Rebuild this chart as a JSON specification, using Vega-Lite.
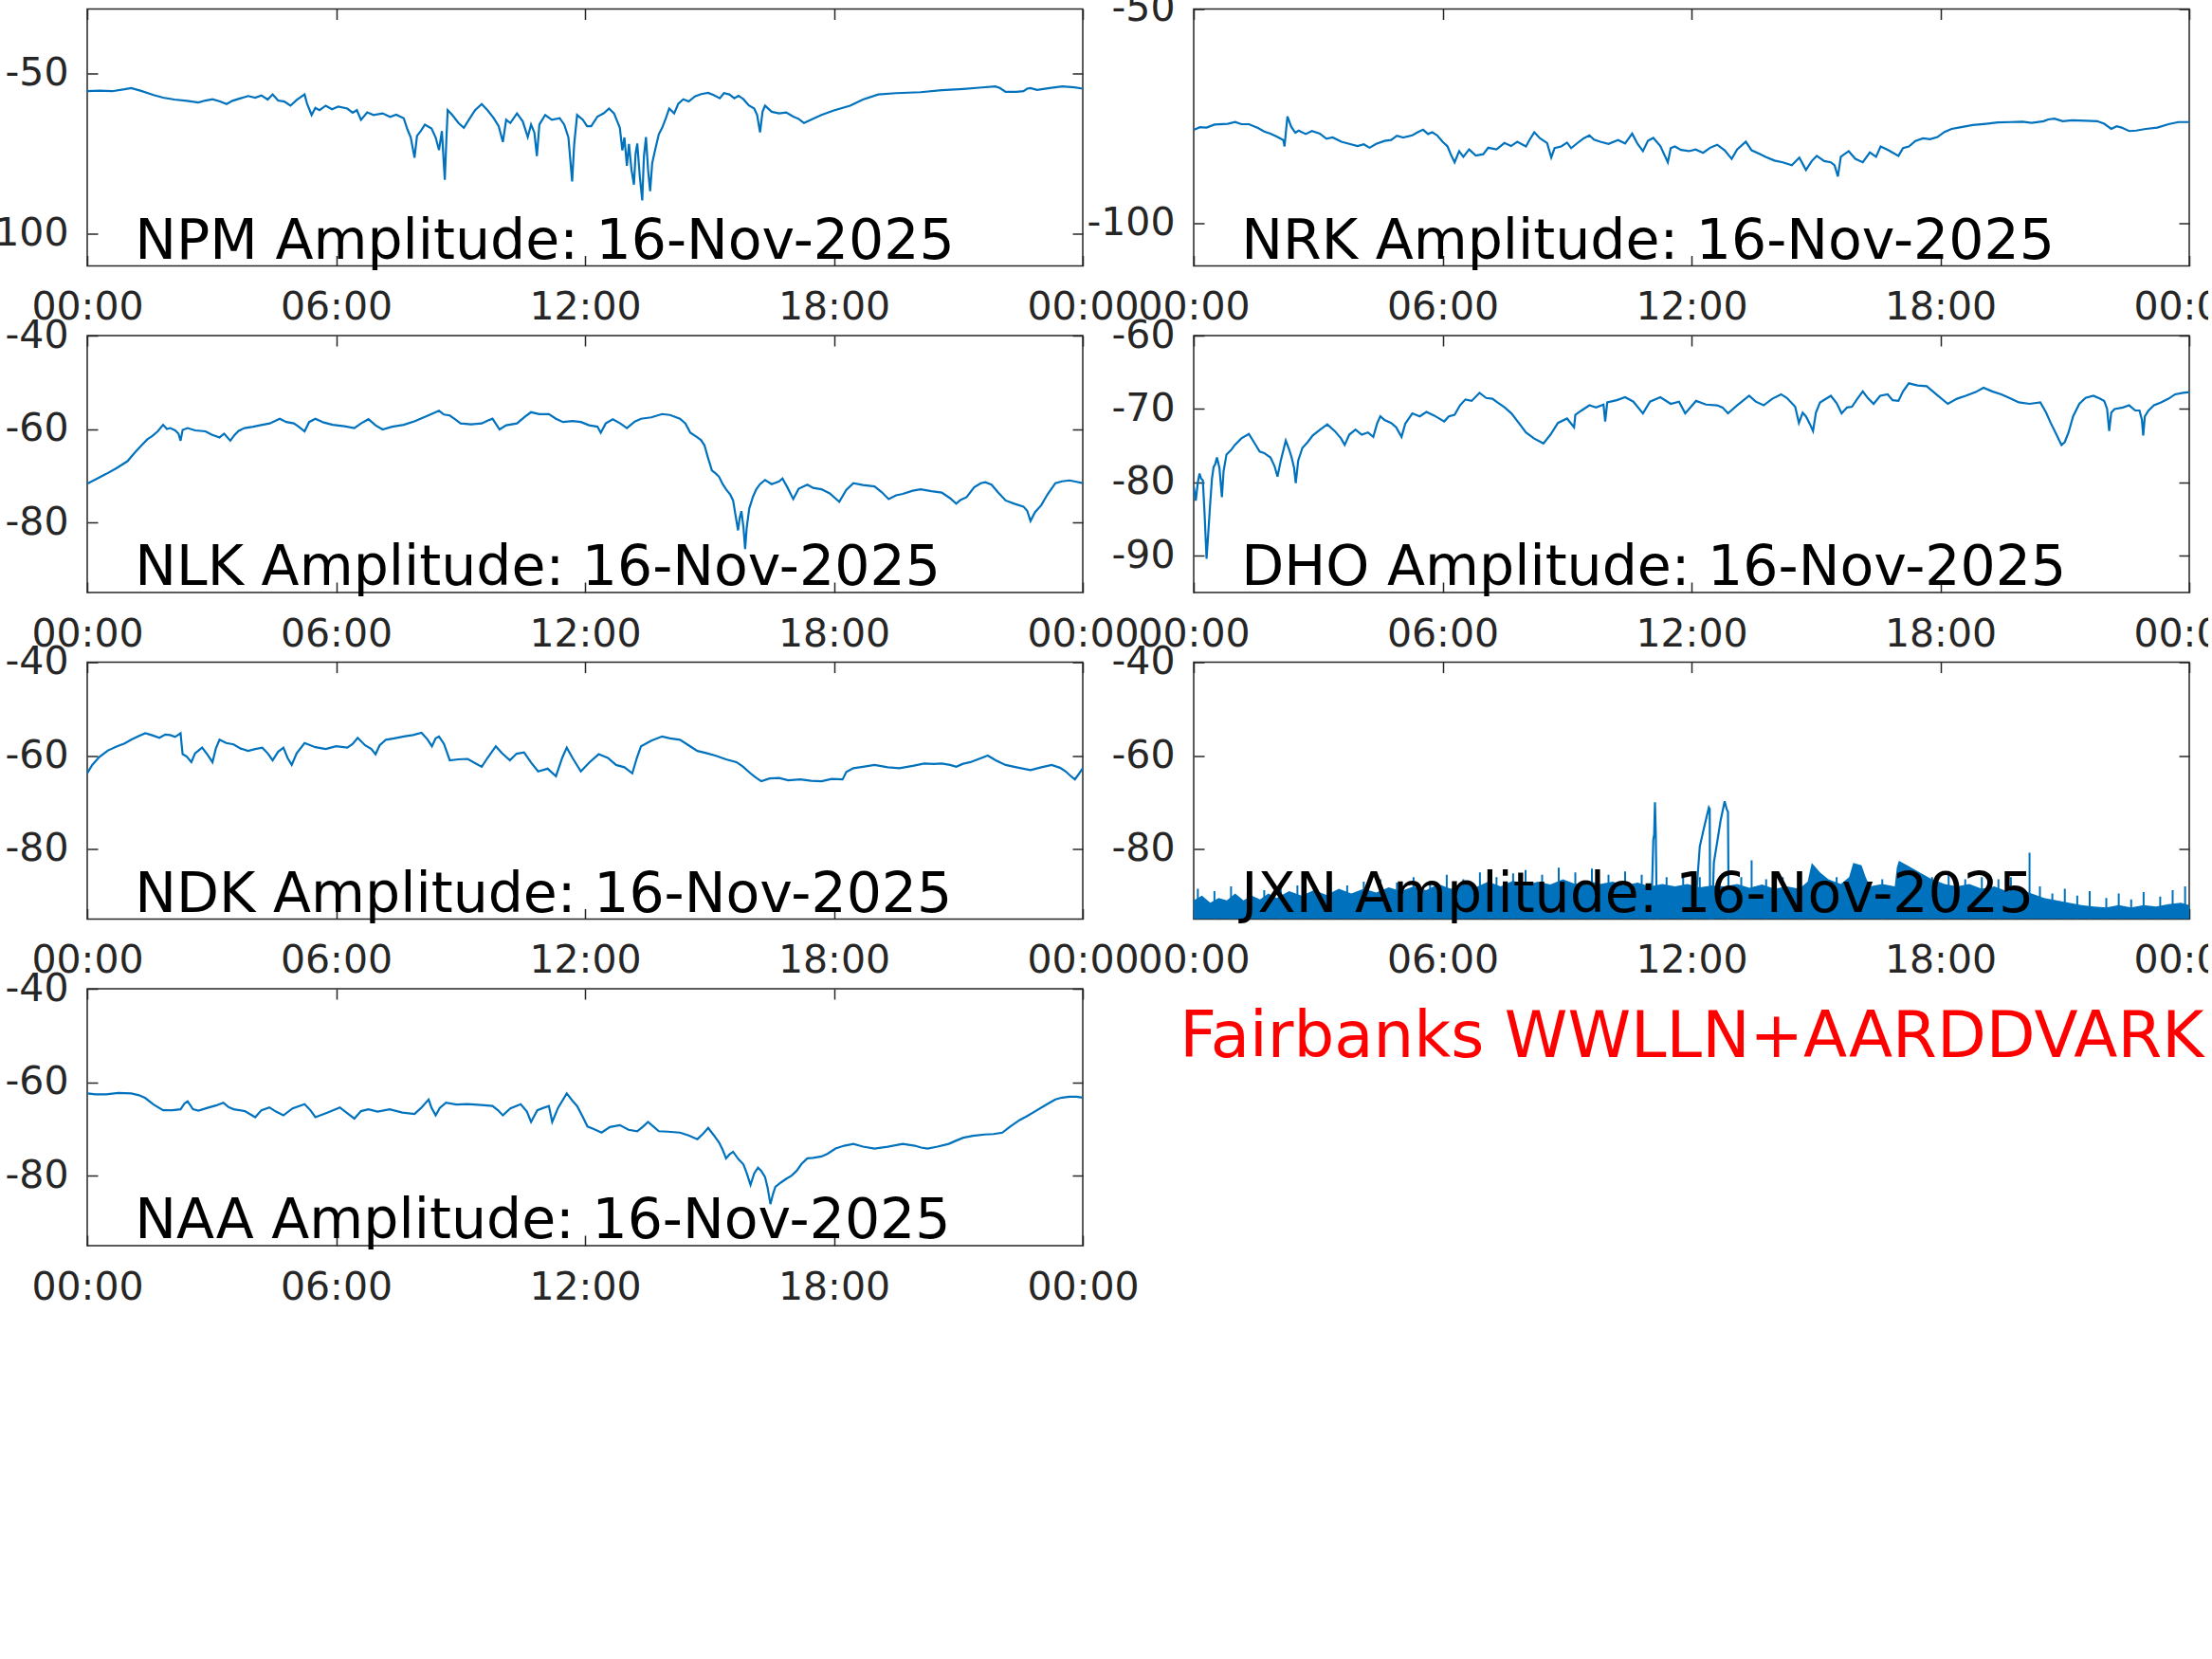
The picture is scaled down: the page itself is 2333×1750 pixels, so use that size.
{
  "$schema": "https://vega.github.io/schema/vega-lite/v6.json",
  "autosize": {"type": "pad"},
  "padding": {"left": -22, "top": -12.5, "right": -40, "bottom": 0},
  "background": "white",
  "config": {
    "view": {"stroke": "#262626", "strokeWidth": 1.5},
    "axis": {"labelFont": "DejaVu Sans", "labelFontSize": 41, "labelColor": "#262626", "tickColor": "#262626", "tickSize": -11, "tickWidth": 1.5, "domain": false, "grid": false, "labelOverlap": false, "labelFlush": false},
    "axisBottom": {"labelPadding": 35},
    "axisLeft": {"labelPadding": 31},
    "line": {"color": "#0072BD", "strokeWidth": 2.2},
    "text": {"font": "DejaVu Sans"}
  },
  "datasets": {
    "npm": [{"h":0,"v":-55.6},{"h":0.3,"v":-55.4},{"h":0.6,"v":-55.6},{"h":0.9,"v":-55.0},{"h":1.06,"v":-54.6},{"h":1.3,"v":-55.5},{"h":1.6,"v":-56.8},{"h":1.83,"v":-57.6},{"h":2.1,"v":-58.2},{"h":2.4,"v":-58.6},{"h":2.68,"v":-59.1},{"h":2.85,"v":-58.5},{"h":3.02,"v":-58.1},{"h":3.2,"v":-58.8},{"h":3.36,"v":-59.6},{"h":3.5,"v":-58.6},{"h":3.7,"v":-57.8},{"h":3.88,"v":-57.1},{"h":4.05,"v":-57.6},{"h":4.2,"v":-56.9},{"h":4.35,"v":-58.2},{"h":4.47,"v":-56.6},{"h":4.6,"v":-58.5},{"h":4.75,"v":-58.8},{"h":4.9,"v":-60.1},{"h":5.05,"v":-58.3},{"h":5.24,"v":-56.6},{"h":5.3,"v":-59.5},{"h":5.41,"v":-63.0},{"h":5.5,"v":-60.8},{"h":5.6,"v":-61.5},{"h":5.75,"v":-60.1},{"h":5.9,"v":-61.2},{"h":6.05,"v":-60.4},{"h":6.27,"v":-61.0},{"h":6.4,"v":-62.3},{"h":6.5,"v":-61.5},{"h":6.6,"v":-64.5},{"h":6.75,"v":-62.2},{"h":6.9,"v":-63.0},{"h":7.12,"v":-62.5},{"h":7.3,"v":-63.6},{"h":7.45,"v":-62.9},{"h":7.63,"v":-64.0},{"h":7.72,"v":-67.5},{"h":7.8,"v":-70.0},{"h":7.89,"v":-76.3},{"h":7.95,"v":-69.5},{"h":8.05,"v":-67.8},{"h":8.14,"v":-66.0},{"h":8.3,"v":-67.2},{"h":8.4,"v":-70.0},{"h":8.48,"v":-73.9},{"h":8.55,"v":-68.0},{"h":8.62,"v":-83.2},{"h":8.66,"v":-70.0},{"h":8.69,"v":-61.5},{"h":8.8,"v":-63.0},{"h":8.95,"v":-65.5},{"h":9.08,"v":-67.0},{"h":9.2,"v":-64.5},{"h":9.35,"v":-61.5},{"h":9.51,"v":-59.6},{"h":9.65,"v":-61.5},{"h":9.8,"v":-64.0},{"h":9.92,"v":-66.5},{"h":10.02,"v":-71.4},{"h":10.1,"v":-64.5},{"h":10.2,"v":-65.5},{"h":10.36,"v":-62.5},{"h":10.5,"v":-65.0},{"h":10.62,"v":-69.9},{"h":10.7,"v":-66.0},{"h":10.78,"v":-68.5},{"h":10.84,"v":-75.8},{"h":10.9,"v":-66.0},{"h":11.04,"v":-63.0},{"h":11.2,"v":-64.5},{"h":11.39,"v":-64.0},{"h":11.5,"v":-66.0},{"h":11.6,"v":-70.0},{"h":11.69,"v":-83.7},{"h":11.74,"v":-72.0},{"h":11.81,"v":-63.0},{"h":11.95,"v":-64.5},{"h":12.05,"v":-66.5},{"h":12.15,"v":-66.5},{"h":12.3,"v":-63.5},{"h":12.45,"v":-62.5},{"h":12.58,"v":-61.0},{"h":12.7,"v":-62.5},{"h":12.84,"v":-67.0},{"h":12.9,"v":-74.0},{"h":12.95,"v":-70.0},{"h":13.01,"v":-78.8},{"h":13.06,"v":-72.0},{"h":13.12,"v":-80.0},{"h":13.18,"v":-84.7},{"h":13.22,"v":-75.0},{"h":13.26,"v":-71.9},{"h":13.32,"v":-82.0},{"h":13.38,"v":-89.6},{"h":13.42,"v":-76.0},{"h":13.47,"v":-69.9},{"h":13.52,"v":-80.0},{"h":13.57,"v":-86.7},{"h":13.62,"v":-78.0},{"h":13.69,"v":-73.9},{"h":13.78,"v":-69.0},{"h":13.86,"v":-67.0},{"h":13.95,"v":-64.0},{"h":14.03,"v":-61.0},{"h":14.15,"v":-62.5},{"h":14.25,"v":-59.5},{"h":14.37,"v":-58.1},{"h":14.5,"v":-58.8},{"h":14.65,"v":-57.2},{"h":14.8,"v":-56.5},{"h":14.97,"v":-56.1},{"h":15.1,"v":-56.8},{"h":15.25,"v":-57.8},{"h":15.35,"v":-56.2},{"h":15.48,"v":-56.6},{"h":15.6,"v":-57.8},{"h":15.7,"v":-57.0},{"h":15.82,"v":-58.1},{"h":15.95,"v":-60.0},{"h":16.08,"v":-61.0},{"h":16.15,"v":-63.0},{"h":16.22,"v":-68.4},{"h":16.28,"v":-62.0},{"h":16.34,"v":-60.1},{"h":16.5,"v":-62.0},{"h":16.68,"v":-62.5},{"h":16.85,"v":-62.2},{"h":17.02,"v":-63.5},{"h":17.15,"v":-64.2},{"h":17.28,"v":-65.5},{"h":17.5,"v":-64.2},{"h":17.7,"v":-63.0},{"h":18.0,"v":-61.6},{"h":18.39,"v":-60.1},{"h":18.7,"v":-58.2},{"h":19.07,"v":-56.6},{"h":19.5,"v":-56.2},{"h":20.09,"v":-55.9},{"h":20.6,"v":-55.3},{"h":21.12,"v":-54.9},{"h":21.5,"v":-54.5},{"h":21.89,"v":-54.1},{"h":22.0,"v":-54.6},{"h":22.14,"v":-55.8},{"h":22.4,"v":-55.8},{"h":22.57,"v":-55.6},{"h":22.66,"v":-54.8},{"h":22.74,"v":-54.6},{"h":22.9,"v":-55.2},{"h":23.2,"v":-54.6},{"h":23.51,"v":-54.1},{"h":23.8,"v":-54.4},{"h":24,"v":-54.8}],
    "nrk": [{"h":0,"v":-78.2},{"h":0.15,"v":-77.6},{"h":0.31,"v":-77.7},{"h":0.5,"v":-77.0},{"h":0.82,"v":-76.8},{"h":1.0,"v":-76.4},{"h":1.15,"v":-76.9},{"h":1.33,"v":-76.9},{"h":1.55,"v":-77.8},{"h":1.7,"v":-78.6},{"h":1.85,"v":-79.1},{"h":2.0,"v":-79.8},{"h":2.16,"v":-80.6},{"h":2.19,"v":-82.1},{"h":2.23,"v":-78.0},{"h":2.26,"v":-75.1},{"h":2.35,"v":-77.5},{"h":2.45,"v":-78.9},{"h":2.53,"v":-78.4},{"h":2.7,"v":-79.2},{"h":2.85,"v":-78.5},{"h":3.04,"v":-79.1},{"h":3.2,"v":-80.3},{"h":3.35,"v":-80.0},{"h":3.56,"v":-81.0},{"h":3.75,"v":-81.5},{"h":3.95,"v":-82.0},{"h":4.1,"v":-81.6},{"h":4.24,"v":-82.4},{"h":4.4,"v":-81.5},{"h":4.6,"v":-80.8},{"h":4.76,"v":-80.6},{"h":4.9,"v":-79.6},{"h":5.05,"v":-80.0},{"h":5.27,"v":-79.5},{"h":5.4,"v":-78.8},{"h":5.53,"v":-78.2},{"h":5.65,"v":-79.2},{"h":5.75,"v":-78.8},{"h":5.87,"v":-79.5},{"h":6.0,"v":-81.0},{"h":6.12,"v":-82.1},{"h":6.2,"v":-84.0},{"h":6.29,"v":-85.8},{"h":6.4,"v":-83.2},{"h":6.5,"v":-84.5},{"h":6.64,"v":-82.8},{"h":6.8,"v":-84.2},{"h":6.98,"v":-83.9},{"h":7.1,"v":-82.4},{"h":7.3,"v":-82.8},{"h":7.49,"v":-81.3},{"h":7.65,"v":-82.0},{"h":7.8,"v":-81.0},{"h":8.01,"v":-82.1},{"h":8.1,"v":-80.5},{"h":8.21,"v":-78.8},{"h":8.35,"v":-80.2},{"h":8.52,"v":-81.3},{"h":8.62,"v":-84.7},{"h":8.7,"v":-82.5},{"h":8.86,"v":-82.1},{"h":9.0,"v":-81.2},{"h":9.1,"v":-82.5},{"h":9.29,"v":-81.0},{"h":9.4,"v":-80.2},{"h":9.54,"v":-79.5},{"h":9.65,"v":-80.5},{"h":9.8,"v":-81.0},{"h":10.0,"v":-81.5},{"h":10.23,"v":-80.6},{"h":10.4,"v":-81.4},{"h":10.57,"v":-79.1},{"h":10.7,"v":-81.5},{"h":10.83,"v":-83.2},{"h":10.95,"v":-80.8},{"h":11.08,"v":-80.1},{"h":11.25,"v":-82.0},{"h":11.43,"v":-85.8},{"h":11.5,"v":-82.5},{"h":11.6,"v":-82.1},{"h":11.75,"v":-82.9},{"h":11.94,"v":-83.2},{"h":12.1,"v":-82.8},{"h":12.28,"v":-83.6},{"h":12.45,"v":-82.4},{"h":12.62,"v":-81.7},{"h":12.8,"v":-83.0},{"h":12.97,"v":-85.0},{"h":13.1,"v":-82.8},{"h":13.31,"v":-81.0},{"h":13.45,"v":-83.0},{"h":13.65,"v":-83.9},{"h":13.8,"v":-84.6},{"h":14.0,"v":-85.4},{"h":14.2,"v":-85.8},{"h":14.42,"v":-86.5},{"h":14.6,"v":-84.7},{"h":14.7,"v":-86.5},{"h":14.76,"v":-87.6},{"h":14.9,"v":-85.5},{"h":15.02,"v":-84.3},{"h":15.2,"v":-85.5},{"h":15.36,"v":-85.8},{"h":15.45,"v":-86.5},{"h":15.53,"v":-89.1},{"h":15.6,"v":-84.5},{"h":15.79,"v":-83.2},{"h":15.95,"v":-85.0},{"h":16.13,"v":-85.8},{"h":16.3,"v":-83.5},{"h":16.45,"v":-84.5},{"h":16.56,"v":-82.1},{"h":16.75,"v":-83.0},{"h":16.99,"v":-84.3},{"h":17.1,"v":-82.5},{"h":17.24,"v":-82.1},{"h":17.4,"v":-80.8},{"h":17.58,"v":-80.2},{"h":17.75,"v":-80.4},{"h":17.93,"v":-79.9},{"h":18.1,"v":-78.7},{"h":18.27,"v":-78.0},{"h":18.5,"v":-77.6},{"h":18.78,"v":-77.1},{"h":19.1,"v":-76.8},{"h":19.38,"v":-76.5},{"h":19.7,"v":-76.4},{"h":19.98,"v":-76.3},{"h":20.2,"v":-76.6},{"h":20.49,"v":-76.2},{"h":20.6,"v":-75.8},{"h":20.75,"v":-75.6},{"h":20.95,"v":-76.2},{"h":21.18,"v":-76.0},{"h":21.5,"v":-76.1},{"h":21.78,"v":-76.2},{"h":21.95,"v":-76.8},{"h":22.12,"v":-78.0},{"h":22.25,"v":-77.4},{"h":22.37,"v":-77.7},{"h":22.55,"v":-78.5},{"h":22.72,"v":-78.4},{"h":22.95,"v":-78.0},{"h":23.23,"v":-77.7},{"h":23.5,"v":-76.9},{"h":23.74,"v":-76.4},{"h":24,"v":-76.4}],
    "nlk": [{"h":0,"v":-71.7},{"h":0.2,"v":-70.8},{"h":0.46,"v":-69.6},{"h":0.7,"v":-68.4},{"h":0.97,"v":-66.9},{"h":1.15,"v":-65.0},{"h":1.31,"v":-63.5},{"h":1.45,"v":-62.2},{"h":1.57,"v":-61.5},{"h":1.7,"v":-60.5},{"h":1.83,"v":-59.1},{"h":1.92,"v":-60.0},{"h":2.0,"v":-59.8},{"h":2.12,"v":-60.3},{"h":2.2,"v":-61.0},{"h":2.25,"v":-62.5},{"h":2.3,"v":-60.2},{"h":2.42,"v":-59.8},{"h":2.6,"v":-60.3},{"h":2.85,"v":-60.5},{"h":3.0,"v":-61.2},{"h":3.19,"v":-61.8},{"h":3.3,"v":-61.0},{"h":3.45,"v":-62.5},{"h":3.55,"v":-61.3},{"h":3.65,"v":-60.4},{"h":3.79,"v":-59.8},{"h":4.0,"v":-59.5},{"h":4.22,"v":-59.1},{"h":4.4,"v":-58.8},{"h":4.64,"v":-57.8},{"h":4.8,"v":-58.5},{"h":4.98,"v":-58.8},{"h":5.1,"v":-59.5},{"h":5.24,"v":-60.5},{"h":5.35,"v":-58.5},{"h":5.5,"v":-57.8},{"h":5.7,"v":-58.6},{"h":5.92,"v":-59.1},{"h":6.2,"v":-59.4},{"h":6.44,"v":-59.8},{"h":6.6,"v":-58.8},{"h":6.78,"v":-57.9},{"h":6.95,"v":-59.2},{"h":7.12,"v":-60.1},{"h":7.35,"v":-59.5},{"h":7.63,"v":-59.1},{"h":7.9,"v":-58.3},{"h":8.14,"v":-57.4},{"h":8.3,"v":-56.8},{"h":8.48,"v":-56.1},{"h":8.6,"v":-56.9},{"h":8.74,"v":-57.1},{"h":8.88,"v":-58.0},{"h":9.0,"v":-58.8},{"h":9.25,"v":-59.0},{"h":9.51,"v":-58.8},{"h":9.65,"v":-58.2},{"h":9.77,"v":-57.8},{"h":9.86,"v":-59.0},{"h":9.94,"v":-60.1},{"h":10.1,"v":-59.2},{"h":10.36,"v":-58.8},{"h":10.55,"v":-57.4},{"h":10.7,"v":-56.4},{"h":10.9,"v":-56.8},{"h":11.13,"v":-56.8},{"h":11.3,"v":-57.8},{"h":11.47,"v":-58.5},{"h":11.7,"v":-58.3},{"h":11.9,"v":-58.5},{"h":12.1,"v":-59.2},{"h":12.3,"v":-59.5},{"h":12.38,"v":-60.8},{"h":12.5,"v":-58.8},{"h":12.67,"v":-57.9},{"h":12.85,"v":-58.8},{"h":13.01,"v":-59.8},{"h":13.2,"v":-58.4},{"h":13.35,"v":-57.8},{"h":13.6,"v":-57.5},{"h":13.86,"v":-56.8},{"h":14.05,"v":-57.0},{"h":14.29,"v":-57.8},{"h":14.42,"v":-58.8},{"h":14.54,"v":-60.8},{"h":14.71,"v":-61.8},{"h":14.8,"v":-62.4},{"h":14.88,"v":-63.5},{"h":14.96,"v":-66.0},{"h":15.06,"v":-68.9},{"h":15.15,"v":-69.5},{"h":15.23,"v":-70.2},{"h":15.32,"v":-71.8},{"h":15.4,"v":-72.9},{"h":15.5,"v":-74.0},{"h":15.57,"v":-75.3},{"h":15.63,"v":-78.5},{"h":15.69,"v":-81.7},{"h":15.73,"v":-79.0},{"h":15.77,"v":-77.6},{"h":15.82,"v":-81.0},{"h":15.86,"v":-85.7},{"h":15.9,"v":-81.0},{"h":15.96,"v":-77.0},{"h":16.05,"v":-74.5},{"h":16.13,"v":-72.9},{"h":16.22,"v":-71.8},{"h":16.34,"v":-70.9},{"h":16.5,"v":-71.8},{"h":16.68,"v":-71.2},{"h":16.76,"v":-70.6},{"h":16.88,"v":-72.5},{"h":17.02,"v":-75.0},{"h":17.15,"v":-72.8},{"h":17.36,"v":-71.9},{"h":17.5,"v":-72.6},{"h":17.7,"v":-72.9},{"h":17.9,"v":-73.8},{"h":18.13,"v":-75.6},{"h":18.3,"v":-73.0},{"h":18.47,"v":-71.6},{"h":18.7,"v":-72.0},{"h":18.98,"v":-72.3},{"h":19.15,"v":-73.5},{"h":19.32,"v":-75.0},{"h":19.5,"v":-74.2},{"h":19.66,"v":-73.9},{"h":19.9,"v":-73.2},{"h":20.09,"v":-72.9},{"h":20.35,"v":-73.3},{"h":20.6,"v":-73.6},{"h":20.8,"v":-74.8},{"h":20.95,"v":-76.0},{"h":21.05,"v":-75.2},{"h":21.2,"v":-74.6},{"h":21.38,"v":-72.5},{"h":21.54,"v":-71.6},{"h":21.65,"v":-71.4},{"h":21.8,"v":-71.9},{"h":21.95,"v":-73.5},{"h":22.14,"v":-75.3},{"h":22.35,"v":-76.0},{"h":22.57,"v":-76.6},{"h":22.66,"v":-77.5},{"h":22.74,"v":-79.7},{"h":22.85,"v":-77.8},{"h":23.0,"v":-76.3},{"h":23.15,"v":-74.0},{"h":23.34,"v":-71.6},{"h":23.5,"v":-71.2},{"h":23.68,"v":-71.0},{"h":23.85,"v":-71.3},{"h":24,"v":-71.6}],
    "dho": [{"h":0,"v":-80.5},{"h":0.05,"v":-82.5},{"h":0.1,"v":-80.0},{"h":0.14,"v":-78.8},{"h":0.18,"v":-79.5},{"h":0.22,"v":-79.7},{"h":0.26,"v":-84.0},{"h":0.31,"v":-90.4},{"h":0.35,"v":-87.0},{"h":0.39,"v":-83.5},{"h":0.44,"v":-79.5},{"h":0.48,"v":-77.9},{"h":0.52,"v":-77.5},{"h":0.56,"v":-76.6},{"h":0.62,"v":-78.0},{"h":0.68,"v":-82.0},{"h":0.72,"v":-78.5},{"h":0.79,"v":-76.2},{"h":0.9,"v":-75.6},{"h":0.99,"v":-74.9},{"h":1.15,"v":-74.0},{"h":1.33,"v":-73.4},{"h":1.45,"v":-74.5},{"h":1.59,"v":-75.8},{"h":1.7,"v":-76.0},{"h":1.85,"v":-76.6},{"h":1.95,"v":-77.8},{"h":2.02,"v":-79.2},{"h":2.1,"v":-77.0},{"h":2.22,"v":-74.3},{"h":2.3,"v":-75.5},{"h":2.36,"v":-76.6},{"h":2.42,"v":-78.0},{"h":2.46,"v":-80.1},{"h":2.52,"v":-77.0},{"h":2.62,"v":-75.3},{"h":2.75,"v":-74.5},{"h":2.87,"v":-73.6},{"h":3.05,"v":-72.8},{"h":3.22,"v":-72.1},{"h":3.4,"v":-73.0},{"h":3.55,"v":-74.0},{"h":3.64,"v":-74.9},{"h":3.75,"v":-73.5},{"h":3.9,"v":-72.8},{"h":4.05,"v":-73.5},{"h":4.2,"v":-73.2},{"h":4.33,"v":-73.8},{"h":4.42,"v":-72.0},{"h":4.5,"v":-71.0},{"h":4.6,"v":-71.5},{"h":4.76,"v":-71.9},{"h":4.88,"v":-72.5},{"h":5.01,"v":-73.8},{"h":5.1,"v":-72.0},{"h":5.27,"v":-70.6},{"h":5.45,"v":-71.0},{"h":5.61,"v":-70.4},{"h":5.8,"v":-70.9},{"h":6.04,"v":-71.7},{"h":6.15,"v":-71.0},{"h":6.29,"v":-70.8},{"h":6.42,"v":-69.5},{"h":6.55,"v":-68.7},{"h":6.7,"v":-68.9},{"h":6.89,"v":-67.8},{"h":7.05,"v":-68.5},{"h":7.2,"v":-68.6},{"h":7.32,"v":-69.1},{"h":7.5,"v":-69.8},{"h":7.66,"v":-70.6},{"h":7.85,"v":-72.0},{"h":8.01,"v":-73.2},{"h":8.2,"v":-74.0},{"h":8.43,"v":-74.7},{"h":8.6,"v":-73.5},{"h":8.78,"v":-71.9},{"h":9.0,"v":-71.3},{"h":9.17,"v":-72.5},{"h":9.2,"v":-70.8},{"h":9.35,"v":-70.2},{"h":9.54,"v":-69.5},{"h":9.7,"v":-69.8},{"h":9.88,"v":-69.4},{"h":9.92,"v":-71.7},{"h":9.97,"v":-69.1},{"h":10.2,"v":-68.8},{"h":10.4,"v":-68.4},{"h":10.6,"v":-69.0},{"h":10.83,"v":-70.6},{"h":11.0,"v":-69.0},{"h":11.25,"v":-68.4},{"h":11.5,"v":-69.3},{"h":11.7,"v":-69.0},{"h":11.85,"v":-70.6},{"h":12.11,"v":-68.9},{"h":12.35,"v":-69.4},{"h":12.62,"v":-69.5},{"h":12.75,"v":-69.8},{"h":12.88,"v":-70.6},{"h":13.1,"v":-69.5},{"h":13.39,"v":-68.2},{"h":13.55,"v":-69.0},{"h":13.74,"v":-69.5},{"h":13.95,"v":-68.6},{"h":14.16,"v":-68.0},{"h":14.3,"v":-68.5},{"h":14.5,"v":-69.7},{"h":14.59,"v":-71.9},{"h":14.68,"v":-70.5},{"h":14.76,"v":-71.0},{"h":14.85,"v":-72.0},{"h":14.93,"v":-73.0},{"h":15.0,"v":-70.5},{"h":15.1,"v":-69.1},{"h":15.36,"v":-68.2},{"h":15.5,"v":-69.2},{"h":15.62,"v":-70.6},{"h":15.75,"v":-69.8},{"h":15.87,"v":-69.7},{"h":16.0,"v":-68.6},{"h":16.13,"v":-67.6},{"h":16.25,"v":-68.5},{"h":16.39,"v":-69.3},{"h":16.55,"v":-68.2},{"h":16.73,"v":-68.0},{"h":16.85,"v":-68.8},{"h":16.99,"v":-68.9},{"h":17.1,"v":-67.6},{"h":17.24,"v":-66.5},{"h":17.45,"v":-66.8},{"h":17.67,"v":-66.9},{"h":17.9,"v":-68.0},{"h":18.18,"v":-69.3},{"h":18.4,"v":-68.6},{"h":18.61,"v":-68.2},{"h":18.85,"v":-67.7},{"h":19.04,"v":-67.1},{"h":19.25,"v":-67.6},{"h":19.47,"v":-68.0},{"h":19.7,"v":-68.6},{"h":19.89,"v":-69.1},{"h":20.15,"v":-69.3},{"h":20.41,"v":-69.1},{"h":20.55,"v":-70.5},{"h":20.66,"v":-71.9},{"h":20.8,"v":-73.5},{"h":20.92,"v":-74.9},{"h":21.0,"v":-74.5},{"h":21.09,"v":-73.2},{"h":21.2,"v":-71.0},{"h":21.35,"v":-69.3},{"h":21.5,"v":-68.5},{"h":21.69,"v":-68.2},{"h":21.85,"v":-68.6},{"h":21.95,"v":-68.9},{"h":22.02,"v":-70.0},{"h":22.07,"v":-73.0},{"h":22.12,"v":-70.5},{"h":22.2,"v":-70.0},{"h":22.4,"v":-69.8},{"h":22.55,"v":-69.5},{"h":22.7,"v":-70.2},{"h":22.8,"v":-70.2},{"h":22.86,"v":-71.5},{"h":22.89,"v":-73.6},{"h":22.93,"v":-71.0},{"h":23.02,"v":-70.2},{"h":23.15,"v":-69.5},{"h":23.32,"v":-69.1},{"h":23.5,"v":-68.6},{"h":23.66,"v":-68.0},{"h":23.85,"v":-67.8},{"h":24,"v":-67.7}],
    "ndk": [{"h":0,"v":-63.8},{"h":0.12,"v":-62.0},{"h":0.29,"v":-60.3},{"h":0.5,"v":-58.9},{"h":0.72,"v":-58.0},{"h":0.9,"v":-57.4},{"h":1.06,"v":-56.6},{"h":1.25,"v":-55.8},{"h":1.4,"v":-55.2},{"h":1.55,"v":-55.6},{"h":1.74,"v":-56.2},{"h":1.88,"v":-55.5},{"h":2.0,"v":-55.6},{"h":2.12,"v":-56.0},{"h":2.25,"v":-55.2},{"h":2.28,"v":-58.0},{"h":2.3,"v":-59.7},{"h":2.4,"v":-60.2},{"h":2.51,"v":-61.4},{"h":2.6,"v":-59.5},{"h":2.77,"v":-58.3},{"h":2.9,"v":-59.8},{"h":3.02,"v":-61.4},{"h":3.1,"v":-58.5},{"h":3.19,"v":-56.6},{"h":3.35,"v":-57.3},{"h":3.53,"v":-57.6},{"h":3.7,"v":-58.5},{"h":3.88,"v":-59.0},{"h":4.05,"v":-58.6},{"h":4.22,"v":-58.3},{"h":4.35,"v":-59.5},{"h":4.47,"v":-61.0},{"h":4.6,"v":-59.2},{"h":4.73,"v":-58.3},{"h":4.83,"v":-60.5},{"h":4.93,"v":-62.0},{"h":5.05,"v":-59.5},{"h":5.24,"v":-57.3},{"h":5.5,"v":-58.2},{"h":5.75,"v":-58.6},{"h":6.0,"v":-58.0},{"h":6.27,"v":-58.3},{"h":6.4,"v":-57.5},{"h":6.52,"v":-56.2},{"h":6.7,"v":-57.8},{"h":6.85,"v":-58.6},{"h":6.95,"v":-59.7},{"h":7.05,"v":-57.8},{"h":7.2,"v":-56.6},{"h":7.4,"v":-56.3},{"h":7.63,"v":-55.9},{"h":7.85,"v":-55.6},{"h":8.06,"v":-55.1},{"h":8.2,"v":-56.5},{"h":8.31,"v":-58.0},{"h":8.4,"v":-56.3},{"h":8.48,"v":-55.9},{"h":8.6,"v":-57.5},{"h":8.74,"v":-61.0},{"h":8.95,"v":-60.8},{"h":9.17,"v":-60.7},{"h":9.35,"v":-61.6},{"h":9.51,"v":-62.4},{"h":9.65,"v":-60.5},{"h":9.85,"v":-58.0},{"h":10.0,"v":-59.5},{"h":10.19,"v":-61.0},{"h":10.35,"v":-59.6},{"h":10.53,"v":-59.3},{"h":10.7,"v":-61.5},{"h":10.87,"v":-63.4},{"h":11.1,"v":-62.8},{"h":11.3,"v":-64.4},{"h":11.45,"v":-60.5},{"h":11.56,"v":-58.3},{"h":11.7,"v":-60.5},{"h":11.9,"v":-63.4},{"h":12.1,"v":-61.5},{"h":12.33,"v":-59.7},{"h":12.55,"v":-60.5},{"h":12.75,"v":-62.0},{"h":12.95,"v":-62.5},{"h":13.14,"v":-63.8},{"h":13.25,"v":-60.5},{"h":13.35,"v":-58.0},{"h":13.6,"v":-56.8},{"h":13.86,"v":-55.9},{"h":14.05,"v":-56.3},{"h":14.29,"v":-56.6},{"h":14.5,"v":-57.8},{"h":14.71,"v":-59.0},{"h":14.9,"v":-59.4},{"h":15.14,"v":-60.0},{"h":15.4,"v":-60.8},{"h":15.65,"v":-61.4},{"h":15.8,"v":-62.3},{"h":15.99,"v":-63.8},{"h":16.1,"v":-64.6},{"h":16.25,"v":-65.5},{"h":16.45,"v":-64.9},{"h":16.68,"v":-64.8},{"h":16.9,"v":-65.3},{"h":17.19,"v":-65.1},{"h":17.45,"v":-65.4},{"h":17.7,"v":-65.5},{"h":17.95,"v":-65.0},{"h":18.21,"v":-65.1},{"h":18.3,"v":-63.5},{"h":18.47,"v":-62.7},{"h":18.7,"v":-62.4},{"h":18.98,"v":-62.0},{"h":19.3,"v":-62.5},{"h":19.58,"v":-62.7},{"h":19.9,"v":-62.2},{"h":20.18,"v":-61.7},{"h":20.4,"v":-61.8},{"h":20.6,"v":-61.7},{"h":20.8,"v":-62.0},{"h":20.95,"v":-62.4},{"h":21.1,"v":-61.8},{"h":21.29,"v":-61.4},{"h":21.5,"v":-60.7},{"h":21.71,"v":-60.0},{"h":21.9,"v":-61.0},{"h":22.14,"v":-62.0},{"h":22.4,"v":-62.5},{"h":22.74,"v":-63.1},{"h":23.0,"v":-62.5},{"h":23.25,"v":-62.0},{"h":23.45,"v":-62.6},{"h":23.59,"v":-63.4},{"h":23.7,"v":-64.3},{"h":23.81,"v":-65.1},{"h":23.9,"v":-64.0},{"h":24,"v":-62.7}],
    "naa": [{"h":0,"v":-62.4},{"h":0.2,"v":-62.6},{"h":0.46,"v":-62.6},{"h":0.75,"v":-62.3},{"h":1.06,"v":-62.4},{"h":1.25,"v":-62.8},{"h":1.4,"v":-63.4},{"h":1.6,"v":-64.8},{"h":1.83,"v":-66.0},{"h":2.05,"v":-66.0},{"h":2.25,"v":-65.8},{"h":2.35,"v":-64.5},{"h":2.42,"v":-64.1},{"h":2.55,"v":-65.8},{"h":2.68,"v":-66.1},{"h":2.9,"v":-65.5},{"h":3.1,"v":-65.0},{"h":3.28,"v":-64.4},{"h":3.4,"v":-65.3},{"h":3.53,"v":-65.8},{"h":3.8,"v":-66.2},{"h":4.05,"v":-67.5},{"h":4.2,"v":-66.0},{"h":4.39,"v":-65.4},{"h":4.55,"v":-66.3},{"h":4.73,"v":-67.1},{"h":4.95,"v":-65.6},{"h":5.24,"v":-64.7},{"h":5.38,"v":-66.0},{"h":5.5,"v":-67.5},{"h":5.8,"v":-66.5},{"h":6.09,"v":-65.4},{"h":6.25,"v":-66.5},{"h":6.44,"v":-67.8},{"h":6.6,"v":-66.2},{"h":6.78,"v":-65.8},{"h":7.0,"v":-66.3},{"h":7.29,"v":-65.8},{"h":7.6,"v":-66.5},{"h":7.89,"v":-66.8},{"h":8.05,"v":-65.5},{"h":8.23,"v":-63.7},{"h":8.3,"v":-65.5},{"h":8.4,"v":-67.1},{"h":8.5,"v":-65.5},{"h":8.65,"v":-64.4},{"h":8.9,"v":-64.8},{"h":9.17,"v":-64.7},{"h":9.5,"v":-64.9},{"h":9.77,"v":-65.1},{"h":9.9,"v":-66.0},{"h":10.02,"v":-67.1},{"h":10.2,"v":-65.6},{"h":10.45,"v":-64.7},{"h":10.6,"v":-66.3},{"h":10.7,"v":-68.5},{"h":10.85,"v":-66.0},{"h":11.0,"v":-65.5},{"h":11.13,"v":-65.1},{"h":11.21,"v":-68.5},{"h":11.35,"v":-65.5},{"h":11.56,"v":-62.4},{"h":11.7,"v":-64.0},{"h":11.81,"v":-65.1},{"h":11.95,"v":-67.5},{"h":12.06,"v":-69.5},{"h":12.2,"v":-70.0},{"h":12.4,"v":-70.8},{"h":12.6,"v":-69.6},{"h":12.84,"v":-69.2},{"h":13.05,"v":-70.2},{"h":13.26,"v":-70.5},{"h":13.4,"v":-69.5},{"h":13.52,"v":-68.5},{"h":13.65,"v":-69.5},{"h":13.78,"v":-70.5},{"h":14.0,"v":-70.6},{"h":14.29,"v":-70.8},{"h":14.5,"v":-71.4},{"h":14.71,"v":-72.2},{"h":14.85,"v":-71.0},{"h":14.97,"v":-69.8},{"h":15.1,"v":-71.3},{"h":15.23,"v":-72.9},{"h":15.32,"v":-74.5},{"h":15.4,"v":-76.3},{"h":15.48,"v":-75.5},{"h":15.57,"v":-74.9},{"h":15.7,"v":-76.5},{"h":15.82,"v":-77.6},{"h":15.9,"v":-79.5},{"h":15.99,"v":-82.0},{"h":16.08,"v":-79.5},{"h":16.17,"v":-78.3},{"h":16.25,"v":-79.0},{"h":16.34,"v":-80.3},{"h":16.4,"v":-82.5},{"h":16.47,"v":-86.1},{"h":16.53,"v":-84.0},{"h":16.59,"v":-82.4},{"h":16.72,"v":-81.5},{"h":16.85,"v":-80.7},{"h":16.98,"v":-80.0},{"h":17.1,"v":-79.0},{"h":17.22,"v":-77.5},{"h":17.36,"v":-76.3},{"h":17.5,"v":-76.2},{"h":17.7,"v":-75.9},{"h":17.85,"v":-75.3},{"h":18.04,"v":-74.2},{"h":18.25,"v":-73.6},{"h":18.47,"v":-73.2},{"h":18.7,"v":-73.8},{"h":18.98,"v":-74.2},{"h":19.3,"v":-73.8},{"h":19.66,"v":-73.2},{"h":19.95,"v":-73.6},{"h":20.1,"v":-74.0},{"h":20.26,"v":-74.2},{"h":20.5,"v":-73.8},{"h":20.77,"v":-73.2},{"h":20.95,"v":-72.5},{"h":21.12,"v":-71.9},{"h":21.35,"v":-71.5},{"h":21.63,"v":-71.2},{"h":21.85,"v":-71.1},{"h":22.06,"v":-70.8},{"h":22.25,"v":-69.5},{"h":22.48,"v":-68.1},{"h":22.65,"v":-67.3},{"h":22.82,"v":-66.4},{"h":23.1,"v":-64.9},{"h":23.34,"v":-63.7},{"h":23.5,"v":-63.3},{"h":23.68,"v":-63.1},{"h":23.85,"v":-63.1},{"h":24,"v":-63.3}],
    "jxnband": [{"h":0,"v":-91.0},{"h":0.2,"v":-90.0},{"h":0.4,"v":-91.5},{"h":0.6,"v":-90.5},{"h":0.8,"v":-91.0},{"h":1.0,"v":-89.5},{"h":1.2,"v":-91.0},{"h":1.4,"v":-90.0},{"h":1.6,"v":-90.8},{"h":1.8,"v":-89.5},{"h":2.0,"v":-90.5},{"h":2.3,"v":-89.0},{"h":2.6,"v":-90.0},{"h":2.9,"v":-88.8},{"h":3.2,"v":-89.8},{"h":3.5,"v":-88.5},{"h":3.8,"v":-89.5},{"h":4.1,"v":-88.5},{"h":4.4,"v":-89.3},{"h":4.7,"v":-88.2},{"h":5.0,"v":-89.0},{"h":5.3,"v":-88.0},{"h":5.6,"v":-88.8},{"h":5.9,"v":-87.5},{"h":6.2,"v":-88.5},{"h":6.5,"v":-87.3},{"h":6.8,"v":-88.2},{"h":7.1,"v":-87.0},{"h":7.4,"v":-88.0},{"h":7.7,"v":-86.8},{"h":8.0,"v":-87.8},{"h":8.3,"v":-87.0},{"h":8.6,"v":-87.6},{"h":8.9,"v":-86.5},{"h":9.2,"v":-87.5},{"h":9.5,"v":-86.8},{"h":9.8,"v":-87.5},{"h":10.1,"v":-87.0},{"h":10.4,"v":-87.8},{"h":10.7,"v":-87.2},{"h":11.0,"v":-88.0},{"h":11.3,"v":-87.5},{"h":11.6,"v":-88.0},{"h":11.9,"v":-87.5},{"h":12.2,"v":-88.2},{"h":12.5,"v":-87.8},{"h":12.8,"v":-88.0},{"h":13.1,"v":-87.5},{"h":13.4,"v":-88.3},{"h":13.7,"v":-87.6},{"h":14.0,"v":-88.5},{"h":14.3,"v":-88.0},{"h":14.6,"v":-88.5},{"h":14.8,"v":-87.0},{"h":14.9,"v":-83.0},{"h":15.1,"v":-85.0},{"h":15.3,"v":-86.5},{"h":15.6,"v":-87.5},{"h":15.8,"v":-86.0},{"h":15.9,"v":-83.0},{"h":16.1,"v":-83.5},{"h":16.2,"v":-86.0},{"h":16.3,"v":-88.0},{"h":16.6,"v":-87.5},{"h":16.9,"v":-88.0},{"h":16.95,"v":-84.0},{"h":17.0,"v":-82.5},{"h":17.2,"v":-83.5},{"h":17.5,"v":-85.0},{"h":17.8,"v":-86.5},{"h":18.1,"v":-87.5},{"h":18.4,"v":-88.0},{"h":18.7,"v":-87.5},{"h":19.0,"v":-88.5},{"h":19.3,"v":-88.0},{"h":19.6,"v":-89.0},{"h":19.9,"v":-88.5},{"h":20.2,"v":-89.5},{"h":20.5,"v":-90.5},{"h":20.8,"v":-91.0},{"h":21.1,"v":-91.5},{"h":21.4,"v":-92.0},{"h":21.7,"v":-92.3},{"h":22.0,"v":-92.5},{"h":22.3,"v":-92.0},{"h":22.6,"v":-92.5},{"h":22.9,"v":-92.0},{"h":23.2,"v":-92.3},{"h":23.5,"v":-91.8},{"h":23.8,"v":-91.5},{"h":24,"v":-92.0}],
    "jxnspikes": [{"h":0.1,"v":-88.5},{"h":0.5,"v":-89.0},{"h":0.9,"v":-88.0},{"h":1.3,"v":-89.5},{"h":1.7,"v":-88.8},{"h":2.1,"v":-88.5},{"h":2.5,"v":-87.8},{"h":2.9,"v":-88.2},{"h":3.3,"v":-87.0},{"h":3.7,"v":-87.8},{"h":4.1,"v":-87.0},{"h":4.5,"v":-86.5},{"h":4.9,"v":-87.2},{"h":5.3,"v":-86.0},{"h":5.7,"v":-86.8},{"h":6.1,"v":-85.5},{"h":6.5,"v":-86.5},{"h":6.9,"v":-85.0},{"h":7.3,"v":-86.0},{"h":7.7,"v":-85.2},{"h":8.0,"v":-84.5},{"h":8.4,"v":-85.5},{"h":8.8,"v":-84.0},{"h":9.2,"v":-85.0},{"h":9.6,"v":-84.2},{"h":10.0,"v":-85.5},{"h":10.4,"v":-84.8},{"h":10.8,"v":-85.5},{"h":11.4,"v":-86.0},{"h":11.8,"v":-85.5},{"h":12.2,"v":-86.0},{"h":13.2,"v":-86.0},{"h":13.45,"v":-82.4},{"h":13.8,"v":-86.5},{"h":14.2,"v":-86.0},{"h":14.6,"v":-86.8},{"h":15.5,"v":-86.0},{"h":16.6,"v":-86.5},{"h":17.8,"v":-86.0},{"h":18.2,"v":-85.5},{"h":18.6,"v":-86.5},{"h":19.0,"v":-86.0},{"h":19.4,"v":-86.5},{"h":19.7,"v":-86.0},{"h":20.15,"v":-80.8},{"h":20.4,"v":-88.0},{"h":20.7,"v":-89.5},{"h":21.0,"v":-88.5},{"h":21.3,"v":-90.0},{"h":21.6,"v":-89.0},{"h":22.0,"v":-90.5},{"h":22.3,"v":-89.5},{"h":22.6,"v":-90.8},{"h":22.9,"v":-89.2},{"h":23.3,"v":-90.2},{"h":23.6,"v":-88.8},{"h":23.9,"v":-88.0}],
    "jxnpeaks": [{"h":10.95,"v":-99},{"h":11.05,"v":-88},{"h":11.08,"v":-78},{"h":11.1,"v":-77},{"h":11.12,"v":-70},{"h":11.14,"v":-77},{"h":11.16,"v":-92},{"h":11.18,"v":-99},{"h":12.05,"v":-99},{"h":12.13,"v":-88},{"h":12.2,"v":-79.5},{"h":12.3,"v":-75.5},{"h":12.42,"v":-71.1},{"h":12.44,"v":-71.4},{"h":12.45,"v":-99},{"h":12.48,"v":-99},{"h":12.54,"v":-82.9},{"h":12.62,"v":-78.5},{"h":12.7,"v":-74.0},{"h":12.8,"v":-69.8},{"h":12.85,"v":-71.5},{"h":12.88,"v":-72.0},{"h":12.9,"v":-99}]
  },
  "columns": 2,
  "spacing": {"row": 73.5, "column": 117},
  "bounds": "flush",
  "concat": [
    {
      "width": 1050, "height": 271,
      "layer": [
        {"data": {"name": "npm"}, "mark": {"type": "line", "clip": true},
         "encoding": {
           "x": {"field": "h", "type": "quantitative", "scale": {"domain": [0, 24], "nice": false, "zero": false}, "axis": {"orient": "bottom", "title": null, "values": [0, 6, 12, 18, 24], "labelExpr": "datum.value == 24 || datum.value == 0 ? '00:00' : (datum.value < 10 ? '0' + datum.value : '' + datum.value) + ':00'"}},
           "y": {"field": "v", "type": "quantitative", "scale": {"domain": [-110, -30], "nice": false, "zero": false}, "axis": {"orient": "left", "title": null, "values": [-100, -50], "labelExpr": "'-' + (-datum.value)"}}
         }},
        {"data": {"values": [{"h": 1.15, "label": "NPM Amplitude: 16-Nov-2025"}]},
         "mark": {"type": "text", "align": "left", "baseline": "alphabetic", "dy": -8, "fontSize": 58.5, "color": "black"},
         "encoding": {
           "x": {"field": "h", "type": "quantitative", "scale": {"domain": [0, 24], "nice": false, "zero": false}, "axis": {"orient": "top", "title": null, "values": [0, 6, 12, 18, 24], "labels": false}},
           "y": {"datum": -110, "type": "quantitative", "scale": {"domain": [-110, -30], "nice": false, "zero": false}, "axis": {"orient": "right", "title": null, "values": [-100, -50], "labels": false}},
           "text": {"field": "label"}
         }}
      ],
      "resolve": {"axis": {"x": "independent", "y": "independent"}}
    },
    {
      "width": 1050, "height": 271,
      "layer": [
        {"data": {"name": "nrk"}, "mark": {"type": "line", "clip": true},
         "encoding": {
           "x": {"field": "h", "type": "quantitative", "scale": {"domain": [0, 24], "nice": false, "zero": false}, "axis": {"orient": "bottom", "title": null, "values": [0, 6, 12, 18, 24], "labelExpr": "datum.value == 24 || datum.value == 0 ? '00:00' : (datum.value < 10 ? '0' + datum.value : '' + datum.value) + ':00'"}},
           "y": {"field": "v", "type": "quantitative", "scale": {"domain": [-110, -50], "nice": false, "zero": false}, "axis": {"orient": "left", "title": null, "values": [-100, -50], "labelExpr": "'-' + (-datum.value)"}}
         }},
        {"data": {"values": [{"h": 1.15, "label": "NRK Amplitude: 16-Nov-2025"}]},
         "mark": {"type": "text", "align": "left", "baseline": "alphabetic", "dy": -8, "fontSize": 58.5, "color": "black"},
         "encoding": {
           "x": {"field": "h", "type": "quantitative", "scale": {"domain": [0, 24], "nice": false, "zero": false}, "axis": {"orient": "top", "title": null, "values": [0, 6, 12, 18, 24], "labels": false}},
           "y": {"datum": -110, "type": "quantitative", "scale": {"domain": [-110, -50], "nice": false, "zero": false}, "axis": {"orient": "right", "title": null, "values": [-100, -50], "labels": false}},
           "text": {"field": "label"}
         }}
      ],
      "resolve": {"axis": {"x": "independent", "y": "independent"}}
    },
    {
      "width": 1050, "height": 271,
      "layer": [
        {"data": {"name": "nlk"}, "mark": {"type": "line", "clip": true},
         "encoding": {
           "x": {"field": "h", "type": "quantitative", "scale": {"domain": [0, 24], "nice": false, "zero": false}, "axis": {"orient": "bottom", "title": null, "values": [0, 6, 12, 18, 24], "labelExpr": "datum.value == 24 || datum.value == 0 ? '00:00' : (datum.value < 10 ? '0' + datum.value : '' + datum.value) + ':00'"}},
           "y": {"field": "v", "type": "quantitative", "scale": {"domain": [-95, -40], "nice": false, "zero": false}, "axis": {"orient": "left", "title": null, "values": [-80, -60, -40], "labelExpr": "'-' + (-datum.value)"}}
         }},
        {"data": {"values": [{"h": 1.15, "label": "NLK Amplitude: 16-Nov-2025"}]},
         "mark": {"type": "text", "align": "left", "baseline": "alphabetic", "dy": -8, "fontSize": 58.5, "color": "black"},
         "encoding": {
           "x": {"field": "h", "type": "quantitative", "scale": {"domain": [0, 24], "nice": false, "zero": false}, "axis": {"orient": "top", "title": null, "values": [0, 6, 12, 18, 24], "labels": false}},
           "y": {"datum": -95, "type": "quantitative", "scale": {"domain": [-95, -40], "nice": false, "zero": false}, "axis": {"orient": "right", "title": null, "values": [-80, -60, -40], "labels": false}},
           "text": {"field": "label"}
         }}
      ],
      "resolve": {"axis": {"x": "independent", "y": "independent"}}
    },
    {
      "width": 1050, "height": 271,
      "layer": [
        {"data": {"name": "dho"}, "mark": {"type": "line", "clip": true},
         "encoding": {
           "x": {"field": "h", "type": "quantitative", "scale": {"domain": [0, 24], "nice": false, "zero": false}, "axis": {"orient": "bottom", "title": null, "values": [0, 6, 12, 18, 24], "labelExpr": "datum.value == 24 || datum.value == 0 ? '00:00' : (datum.value < 10 ? '0' + datum.value : '' + datum.value) + ':00'"}},
           "y": {"field": "v", "type": "quantitative", "scale": {"domain": [-95, -60], "nice": false, "zero": false}, "axis": {"orient": "left", "title": null, "values": [-90, -80, -70, -60], "labelExpr": "'-' + (-datum.value)"}}
         }},
        {"data": {"values": [{"h": 1.15, "label": "DHO Amplitude: 16-Nov-2025"}]},
         "mark": {"type": "text", "align": "left", "baseline": "alphabetic", "dy": -8, "fontSize": 58.5, "color": "black"},
         "encoding": {
           "x": {"field": "h", "type": "quantitative", "scale": {"domain": [0, 24], "nice": false, "zero": false}, "axis": {"orient": "top", "title": null, "values": [0, 6, 12, 18, 24], "labels": false}},
           "y": {"datum": -95, "type": "quantitative", "scale": {"domain": [-95, -60], "nice": false, "zero": false}, "axis": {"orient": "right", "title": null, "values": [-90, -80, -70, -60], "labels": false}},
           "text": {"field": "label"}
         }}
      ],
      "resolve": {"axis": {"x": "independent", "y": "independent"}}
    },
    {
      "width": 1050, "height": 271,
      "layer": [
        {"data": {"name": "ndk"}, "mark": {"type": "line", "clip": true},
         "encoding": {
           "x": {"field": "h", "type": "quantitative", "scale": {"domain": [0, 24], "nice": false, "zero": false}, "axis": {"orient": "bottom", "title": null, "values": [0, 6, 12, 18, 24], "labelExpr": "datum.value == 24 || datum.value == 0 ? '00:00' : (datum.value < 10 ? '0' + datum.value : '' + datum.value) + ':00'"}},
           "y": {"field": "v", "type": "quantitative", "scale": {"domain": [-95, -40], "nice": false, "zero": false}, "axis": {"orient": "left", "title": null, "values": [-80, -60, -40], "labelExpr": "'-' + (-datum.value)"}}
         }},
        {"data": {"values": [{"h": 1.15, "label": "NDK Amplitude: 16-Nov-2025"}]},
         "mark": {"type": "text", "align": "left", "baseline": "alphabetic", "dy": -8, "fontSize": 58.5, "color": "black"},
         "encoding": {
           "x": {"field": "h", "type": "quantitative", "scale": {"domain": [0, 24], "nice": false, "zero": false}, "axis": {"orient": "top", "title": null, "values": [0, 6, 12, 18, 24], "labels": false}},
           "y": {"datum": -95, "type": "quantitative", "scale": {"domain": [-95, -40], "nice": false, "zero": false}, "axis": {"orient": "right", "title": null, "values": [-80, -60, -40], "labels": false}},
           "text": {"field": "label"}
         }}
      ],
      "resolve": {"axis": {"x": "independent", "y": "independent"}}
    },
    {
      "width": 1050, "height": 271,
      "layer": [
        {"data": {"name": "jxnband"}, "mark": {"type": "area", "color": "#0072BD", "opacity": 1, "clip": true},
         "encoding": {
           "x": {"field": "h", "type": "quantitative", "scale": {"domain": [0, 24], "nice": false, "zero": false}, "axis": {"orient": "bottom", "title": null, "values": [0, 6, 12, 18, 24], "labelExpr": "datum.value == 24 || datum.value == 0 ? '00:00' : (datum.value < 10 ? '0' + datum.value : '' + datum.value) + ':00'"}},
           "y": {"field": "v", "type": "quantitative", "scale": {"domain": [-95, -40], "nice": false, "zero": false}, "axis": {"orient": "left", "title": null, "values": [-80, -60, -40], "labelExpr": "'-' + (-datum.value)"}},
           "y2": {"datum": -95}
         }},
        {"data": {"name": "jxnspikes"}, "mark": {"type": "rule", "color": "#0072BD", "strokeWidth": 2, "clip": true},
         "encoding": {
           "x": {"field": "h", "type": "quantitative", "axis": null},
           "y": {"field": "v", "type": "quantitative", "axis": null},
           "y2": {"datum": -95}
         }},
        {"data": {"name": "jxnpeaks"}, "mark": {"type": "line", "clip": true},
         "encoding": {
           "x": {"field": "h", "type": "quantitative", "axis": null},
           "y": {"field": "v", "type": "quantitative", "axis": null}
         }},
        {"data": {"values": [{"h": 1.15, "label": "JXN Amplitude: 16-Nov-2025"}]},
         "mark": {"type": "text", "align": "left", "baseline": "alphabetic", "dy": -8, "fontSize": 58.5, "color": "black"},
         "encoding": {
           "x": {"field": "h", "type": "quantitative", "scale": {"domain": [0, 24], "nice": false, "zero": false}, "axis": {"orient": "top", "title": null, "values": [0, 6, 12, 18, 24], "labels": false}},
           "y": {"datum": -95, "type": "quantitative", "scale": {"domain": [-95, -40], "nice": false, "zero": false}, "axis": {"orient": "right", "title": null, "values": [-80, -60, -40], "labels": false}},
           "text": {"field": "label"}
         }}
      ],
      "resolve": {"axis": {"x": "independent", "y": "independent"}}
    },
    {
      "width": 1050, "height": 271,
      "layer": [
        {"data": {"name": "naa"}, "mark": {"type": "line", "clip": true},
         "encoding": {
           "x": {"field": "h", "type": "quantitative", "scale": {"domain": [0, 24], "nice": false, "zero": false}, "axis": {"orient": "bottom", "title": null, "values": [0, 6, 12, 18, 24], "labelExpr": "datum.value == 24 || datum.value == 0 ? '00:00' : (datum.value < 10 ? '0' + datum.value : '' + datum.value) + ':00'"}},
           "y": {"field": "v", "type": "quantitative", "scale": {"domain": [-95, -40], "nice": false, "zero": false}, "axis": {"orient": "left", "title": null, "values": [-80, -60, -40], "labelExpr": "'-' + (-datum.value)"}}
         }},
        {"data": {"values": [{"h": 1.15, "label": "NAA Amplitude: 16-Nov-2025"}]},
         "mark": {"type": "text", "align": "left", "baseline": "alphabetic", "dy": -8, "fontSize": 58.5, "color": "black"},
         "encoding": {
           "x": {"field": "h", "type": "quantitative", "scale": {"domain": [0, 24], "nice": false, "zero": false}, "axis": {"orient": "top", "title": null, "values": [0, 6, 12, 18, 24], "labels": false}},
           "y": {"datum": -95, "type": "quantitative", "scale": {"domain": [-95, -40], "nice": false, "zero": false}, "axis": {"orient": "right", "title": null, "values": [-80, -60, -40], "labels": false}},
           "text": {"field": "label"}
         }}
      ],
      "resolve": {"axis": {"x": "independent", "y": "independent"}}
    },
    {
      "width": 1050, "height": 271,
      "view": {"stroke": null},
      "data": {"values": [{"label": "Fairbanks WWLLN+AARDDVARK"}]},
      "mark": {"type": "text", "align": "left", "baseline": "alphabetic", "fontSize": 67.4, "color": "#FF0000"},
      "encoding": {
        "x": {"datum": -0.34, "type": "quantitative", "scale": {"domain": [0, 24], "nice": false, "zero": false}, "axis": null},
        "y": {"datum": -54.7, "type": "quantitative", "scale": {"domain": [-95, -40], "nice": false, "zero": false}, "axis": null},
        "text": {"field": "label"}
      }
    }
  ]
}
